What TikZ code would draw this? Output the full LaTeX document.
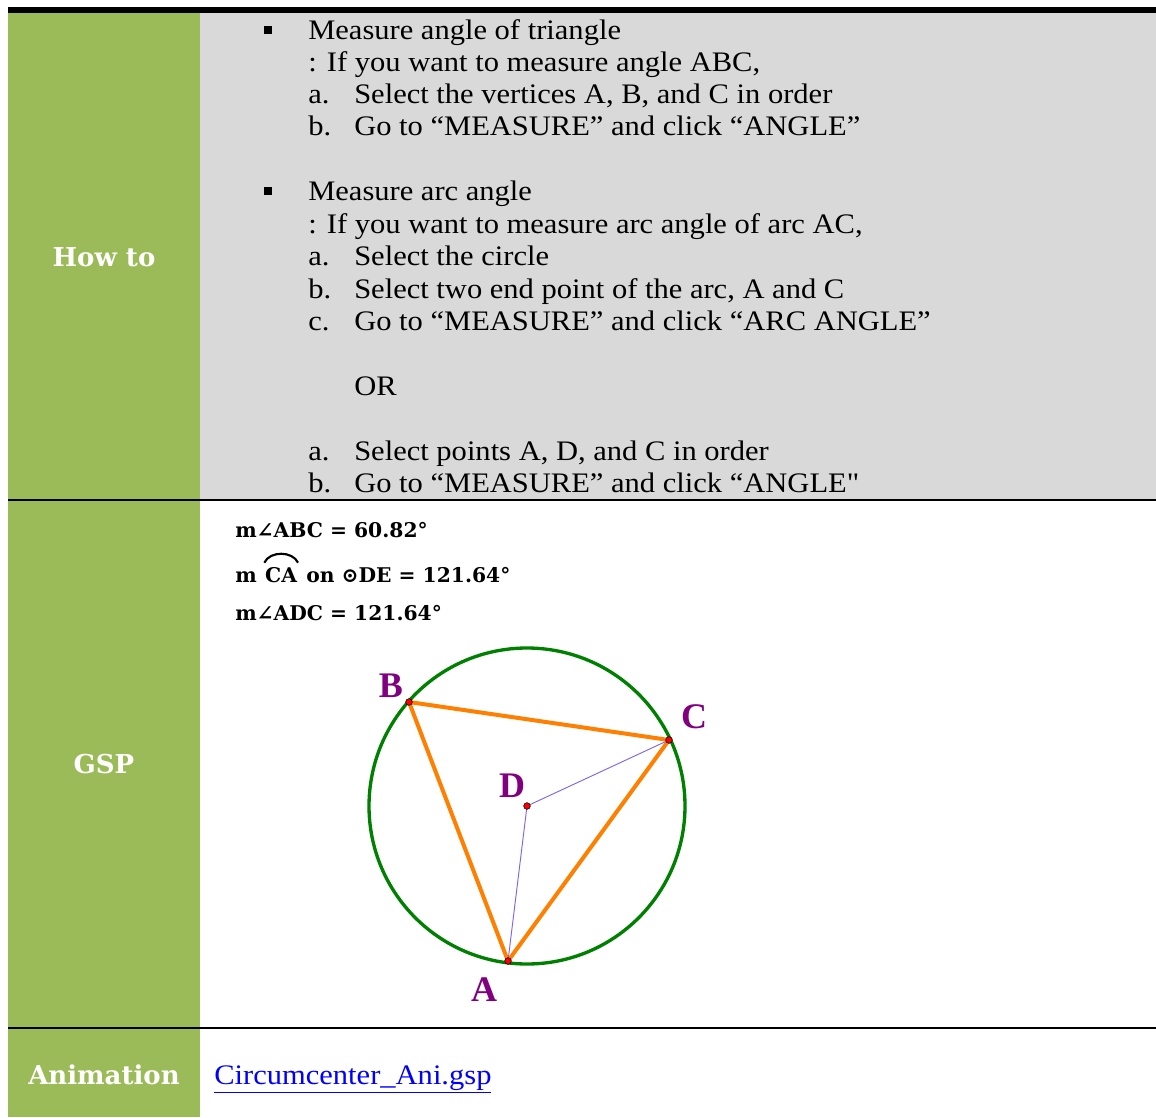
\documentclass[tikz,border=0pt]{standalone}
\usepackage{fontspec}
\setmainfont{Liberation Serif}
\newfontfamily\bodyfont{Liberation Serif}[FakeStretch=1.08]
\newfontfamily\headfont{DejaVu Serif}
\usepackage{tikz}

\definecolor{howgreen}{RGB}{155,187,89}
\definecolor{howgrey}{RGB}{217,217,217}
\definecolor{gspcircle}{RGB}{0,128,0}
\definecolor{gsporange}{RGB}{255,128,0}
\definecolor{gsppurple}{RGB}{128,0,128}
\definecolor{gspviolet}{RGB}{128,100,230}
\definecolor{linkblue}{RGB}{0,0,255}

\tikzset{
  bodytext/.style={anchor=base west,inner sep=0pt,font=\bodyfont\fontsize{21.2}{25}\selectfont},
  headtext/.style={text=white,inner sep=0pt,font=\headfont\fontsize{19.5}{23}\selectfont\bfseries},
  meastext/.style={anchor=base west,inner sep=0pt,font=\headfont\fontsize{15.2}{18}\selectfont\bfseries},
  bulletmark/.style={rectangle,fill=black,minimum size=5.5pt,inner sep=0pt},
  vertexdot/.style={circle,fill=red,draw=black,line width=0.4pt,minimum size=5pt,inner sep=0pt},
  vertexlabel/.style={text=gsppurple,inner sep=0pt,font=\fontsize{27}{30}\selectfont\bfseries},
  sidestroke/.style={draw=gsporange,line width=3pt},
  radiusstroke/.style={draw=gspviolet,line width=0.7pt}
}

\begin{document}
\begin{tikzpicture}[x=0.75pt,y=-0.75pt]
\useasboundingbox (0,0) rectangle (1156,1117);

% table cells
\fill[howgreen] (8,13) rectangle (200,1117);
\fill[howgrey] (200,13) rectangle (1156,500);
\fill[black] (8,7) rectangle (1156,13);
\draw[black,line width=1pt] (8,500) -- (1156,500);
\draw[black,line width=1pt] (8,1028) -- (1156,1028);

% left column
\node[headtext] (howto) at (104,257) {How to};
\node[headtext] (gsp) at (104,764) {GSP};
\node[headtext] (anim) at (104,1075) {Animation};

% instructions
\node[bulletmark] (bul1) at (268,30) {};
\node[bodytext] (t1) at (308,39) {Measure angle of triangle};
\node[bodytext] (t2) at (308,71) {: If you want to measure angle ABC,};
\node[bodytext] (t3a) at (308,103) {a.};
\node[bodytext] (t3) at (354,103) {Select the vertices A, B, and C in order};
\node[bodytext] (t4a) at (308,135) {b.};
\node[bodytext] (t4) at (354,135) {Go to “MEASURE” and click “ANGLE”};
\node[bulletmark] (bul2) at (268,191) {};
\node[bodytext] (t5) at (308,200) {Measure arc angle};
\node[bodytext] (t6) at (308,233) {: If you want to measure arc angle of arc AC,};
\node[bodytext] (t7a) at (308,265) {a.};
\node[bodytext] (t7) at (354,265) {Select the circle};
\node[bodytext] (t8a) at (308,298) {b.};
\node[bodytext] (t8) at (354,298) {Select two end point of the arc, A and C};
\node[bodytext] (t9a) at (308,330) {c.};
\node[bodytext] (t9) at (354,330) {Go to “MEASURE” and click “ARC ANGLE”};
\node[bodytext] (tor) at (354,395) {OR};
\node[bodytext] (t10a) at (308,460) {a.};
\node[bodytext] (t10) at (354,460) {Select points A, D, and C in order};
\node[bodytext] (t11a) at (308,492) {b.};
\node[bodytext] (t11) at (354,492) {Go to “MEASURE” and click “ANGLE\textquotedbl};

% measurements
\node[meastext] (mabc) at (235,537) {m∠ABC = 60.82°};
\node[meastext] (marc) at (235,582) {m};
\node[meastext] (arcname) at ([xshift=6pt]marc.base east) {CA};
\node[meastext] (arcrest) at ([xshift=6.5pt]arcname.base east) {on ⊙DE = 121.64°};
\draw[line width=1.6pt] ([xshift=-0.5pt,yshift=3pt]arcname.north west) to[bend left=65] ([xshift=0.5pt,yshift=3pt]arcname.north east);
\node[meastext] (madc) at (235,620) {m∠ADC = 121.64°};

% construction
\coordinate (D) at (527,806);
\coordinate (B) at (409,702);
\coordinate (C) at (669,740);
\coordinate (A) at (508,961);
\draw[gspcircle,line width=2.5pt] (D) circle[radius=118.5pt];
\draw[sidestroke] (A) -- (B) -- (C) -- cycle;
\draw[radiusstroke] (A) -- (D) -- (C);
\node[vertexdot] (dotA) at (A) {};
\node[vertexdot] (dotB) at (B) {};
\node[vertexdot] (dotC) at (C) {};
\node[vertexdot] (dotD) at (D) {};
\node[vertexlabel] (labB) at (391,686) {B};
\node[vertexlabel] (labC) at (694,717) {C};
\node[vertexlabel] (labD) at (512,786) {D};
\node[vertexlabel] (labA) at (484,990) {A};

% link
\node[bodytext,text=linkblue] (link) at (214,1084) {\underline{Circumcenter\_Ani.gsp}};
\end{tikzpicture}
\end{document}
